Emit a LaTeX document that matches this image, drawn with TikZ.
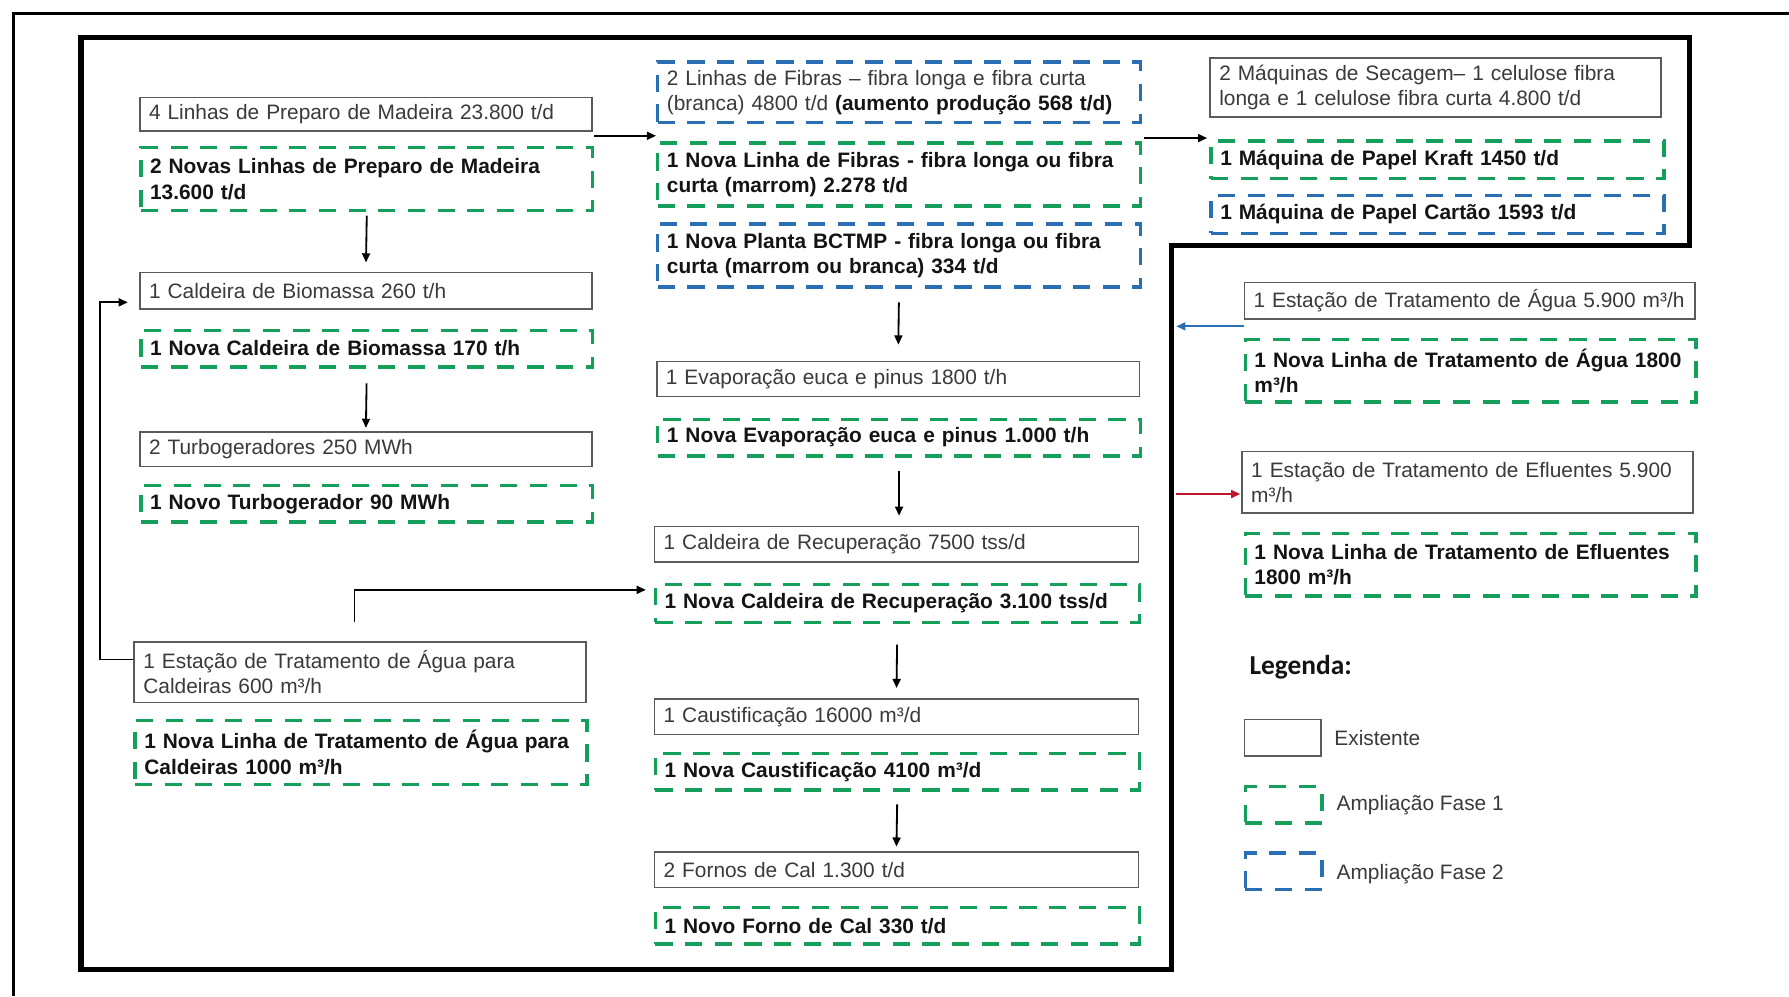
\documentclass[tikz,border=0pt]{standalone}
\usepackage{fontspec}
\setmainfont{Liberation Sans}
\newfontfamily\legfont{Carlito}
\usetikzlibrary{arrows.meta,calc}
\definecolor{grn}{HTML}{14A05A}
\definecolor{blu}{HTML}{2A6EB4}
\definecolor{rd}{HTML}{C0142A}
\definecolor{bord}{HTML}{5A5A5A}
\definecolor{txg}{HTML}{3A3A3A}
\definecolor{txb}{HTML}{141414}
\begin{document}
\begin{tikzpicture}[x=1pt,y=-1pt,
  base/.style={anchor=north west, inner xsep=8pt, inner ysep=0pt, align=left},
  exist/.style={base, draw=bord, line width=1.3pt, text=txg, font=\fontsize{18.3}{22}\selectfont},
  fase1/.style={base, draw=grn, line width=3pt, dash pattern=on 15pt off 11pt, text=txb, font=\fontsize{18.3}{22}\selectfont\bfseries},
  fase2/.style={base, draw=blu, line width=3pt, dash pattern=on 15pt off 11pt, text=txb, font=\fontsize{18.3}{22}\selectfont\bfseries},
  arr/.style={-{Triangle[length=8pt,width=7pt]}, line width=1.6pt, draw=black},
  frame/.style={line width=4.5pt, line join=miter, draw=black},
  outer/.style={line width=3pt, draw=black},
  legtext/.style={anchor=west, text=txg, font=\fontsize{18.3}{22}\selectfont}
]
\useasboundingbox (0,0) rectangle (1568,873);
\fill[white] (0,0) rectangle (1568,873);

% frames
\draw[outer] (12,873) -- (12,12) -- (1568,12);
\draw[frame] (71,33) -- (1481,33) -- (1481,215) -- (1027,215) -- (1027,850) -- (71,850) -- cycle;

% left column
\node[exist, minimum width=396pt, minimum height=29pt, text width=380pt] (B1) at (122,85) {4 Linhas de Preparo de Madeira 23.800 t/d};
\node[fase1, minimum width=396pt, minimum height=55pt, text width=380pt] (G1) at (122,128) {2 Novas Linhas de Preparo de Madeira\\13.600 t/d};
\node[exist, minimum width=396pt, minimum height=32pt, text width=380pt] (B2) at (122,238) {1 Caldeira de Biomassa 260 t/h};
\node[fase1, minimum width=396pt, minimum height=32pt, text width=380pt] (G2) at (122,288) {1 Nova Caldeira de Biomassa 170 t/h};
\node[exist, minimum width=396pt, minimum height=30pt, text width=380pt] (B3) at (122,378) {2 Turbogeradores 250 MWh};
\node[fase1, minimum width=396pt, minimum height=32pt, text width=380pt] (G3) at (122,424) {1 Novo Turbogerador 90 MWh};
\node[exist, minimum width=396pt, minimum height=53pt, text width=380pt] (B4) at (117,562) {1 Estação de Tratamento de Água para\\Caldeiras 600 m³/h};
\node[fase1, minimum width=396pt, minimum height=56pt, text width=380pt] (G4) at (117,630) {1 Nova Linha de Tratamento de Água para\\Caldeiras 1000 m³/h};

% middle column
\node[fase2, minimum width=423pt, minimum height=53pt, text width=407pt, font=\fontsize{18.3}{22}\selectfont, text=txg] (P1) at (575,53) {2 Linhas de Fibras – fibra longa e fibra curta\\(branca) 4800 t/d {\bfseries\color{txb}(aumento produção 568 t/d)}};
\node[fase1, minimum width=423pt, minimum height=55pt, text width=407pt] (G5) at (575,124) {1 Nova Linha de Fibras - fibra longa ou fibra\\curta (marrom) 2.278 t/d};
\node[fase2, minimum width=423pt, minimum height=55pt, text width=407pt] (P2) at (575,195) {1 Nova Planta BCTMP - fibra longa ou fibra\\curta (marrom ou branca) 334 t/d};
\node[exist, minimum width=423pt, minimum height=31pt, text width=407pt] (B5) at (575,316) {1 Evaporação euca e pinus 1800 t/h};
\node[fase1, minimum width=423pt, minimum height=32pt, text width=407pt] (G6) at (575,366) {1 Nova Evaporação euca e pinus 1.000 t/h};
\node[exist, minimum width=424pt, minimum height=31pt, text width=408pt] (B6) at (573,461) {1 Caldeira de Recuperação 7500 tss/d};
\node[fase1, minimum width=424pt, minimum height=33pt, text width=408pt] (G7) at (573,511) {1 Nova Caldeira de Recuperação 3.100 tss/d};
\node[exist, minimum width=424pt, minimum height=31pt, text width=408pt] (B7) at (573,612) {1 Caustificação 16000 m³/d};
\node[fase1, minimum width=424pt, minimum height=32pt, text width=408pt] (G8) at (573,659) {1 Nova Caustificação 4100 m³/d};
\node[exist, minimum width=424pt, minimum height=31pt, text width=408pt] (B8) at (573,746) {2 Fornos de Cal 1.300 t/d};
\node[fase1, minimum width=424pt, minimum height=32pt, text width=408pt] (G9) at (573,794) {1 Novo Forno de Cal 330 t/d};

% right top
\node[exist, minimum width=395pt, minimum height=52pt, text width=379pt] (B9) at (1060,50) {2 Máquinas de Secagem– 1 celulose fibra\\longa e 1 celulose fibra curta 4.800 t/d};
\node[fase1, minimum width=397pt, minimum height=33pt, text width=381pt] (G10) at (1060,122) {1 Máquina de Papel Kraft 1450 t/d};
\node[fase2, minimum width=397pt, minimum height=33pt, text width=381pt] (P3) at (1060,170) {1 Máquina de Papel Cartão 1593 t/d};

% right lower
\node[exist, minimum width=395pt, minimum height=32pt, text width=379pt] (B10) at (1090,247) {1 Estação de Tratamento de Água 5.900 m³/h};
\node[fase1, minimum width=395pt, minimum height=55pt, text width=379pt] (G11) at (1090,296) {1 Nova Linha de Tratamento de Água 1800\\m³/h};
\node[exist, minimum width=395pt, minimum height=54pt, text width=379pt] (B11) at (1088,395) {1 Estação de Tratamento de Efluentes 5.900\\m³/h};
\node[fase1, minimum width=395pt, minimum height=55pt, text width=379pt] (G12) at (1090,466) {1 Nova Linha de Tratamento de Efluentes\\1800 m³/h};

% legend
\node[anchor=west, inner sep=0pt, text=txb, font=\legfont\fontsize{24}{28}\selectfont\bfseries] (leg) at (1095,585) {Legenda:};
\node[exist, minimum width=67pt, minimum height=32pt] (L1) at (1090,630) {};
\node[legtext] (L1t) at (1166,647) {Existente};
\node[fase1, minimum width=67pt, minimum height=32pt] (L2) at (1090,688) {};
\node[legtext] (L2t) at (1168,706) {Ampliação Fase 1};
\node[fase2, minimum width=67pt, minimum height=32pt] (L3) at (1090,746) {};
\node[legtext] (L3t) at (1168,766) {Ampliação Fase 2};

% connectors
\coordinate (a1s) at (521,119);
\coordinate (a1e) at (575,119);
\draw[arr] (a1s) -- (a1e);
\coordinate (a2s) at (1003,121);
\coordinate (a2e) at (1058,121);
\draw[arr] (a2s) -- (a2e);

\draw[arr, shorten <=3pt, shorten >=8pt] (G1.south) -- (B2.north);
\draw[arr, shorten <=13pt, shorten >=3pt] (G2.south) -- (B3.north);
\draw[arr, shorten <=12pt, shorten >=14pt] (P2.south) -- (B5.north);
\draw[arr, shorten <=12pt, shorten >=9pt] (G6.south) -- (G6.south |- B6.north);
\draw[arr, shorten <=18pt, shorten >=9pt] (G7.south) -- (B7.north);
\draw[arr, shorten <=11pt, shorten >=4pt] (G8.south) -- (B8.north);

\draw[arr, shorten >=10pt] ($(B4.north west)+(0,16)$) -- ++(-29,0) |- ($(B2.north west)+(0,27)$);
\draw[arr, shorten >=7pt] ($(B4.north)+(-5,-17)$) |- ($(G7.north west)+(0,6)$);

\coordinate (bws) at (1090,286);
\coordinate (bwe) at (1031,286);
\draw[arr, draw=blu, -{Triangle[length=8pt,width=7pt]}] (bws) -- (bwe);
\coordinate (rds) at (1031,433);
\coordinate (rde) at (1087,433);
\draw[arr, draw=rd] (rds) -- (rde);
\end{tikzpicture}
\end{document}
